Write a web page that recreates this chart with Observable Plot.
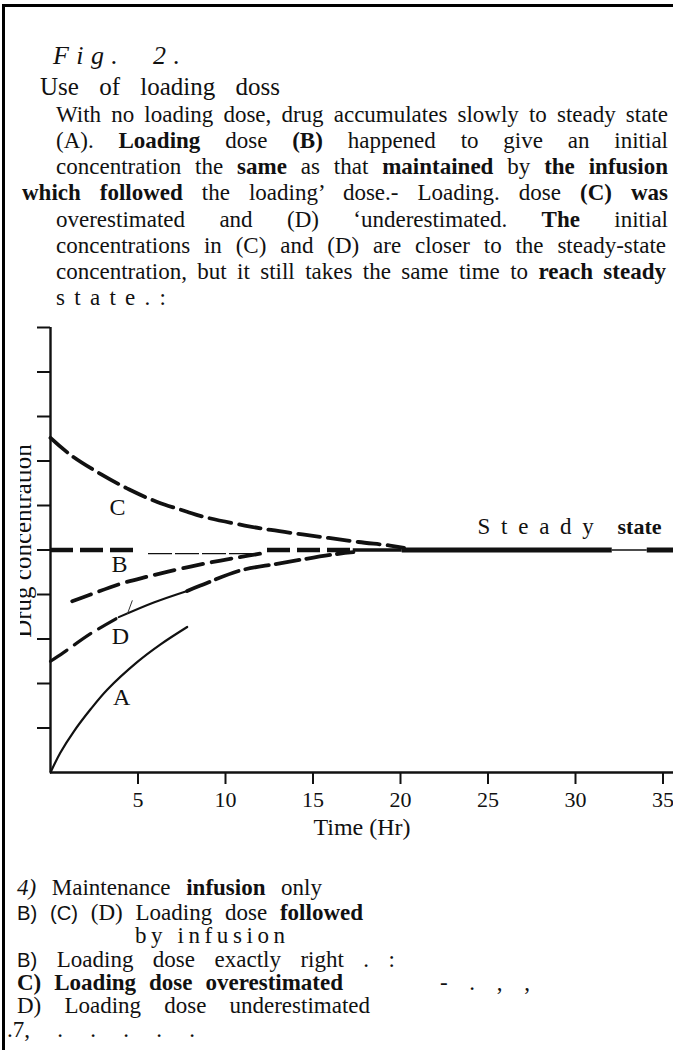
<!DOCTYPE html>
<html><head><meta charset="utf-8">
<script src="https://cdn.jsdelivr.net/npm/d3@7"></script>
<script src="https://cdn.jsdelivr.net/npm/@observablehq/plot@0.6"></script>
<style>
html,body{margin:0;padding:0;background:#fff;}
#page{position:relative;width:673px;height:1050px;overflow:hidden;background:#fff;font-family:"Liberation Serif","Times New Roman",serif;color:#111;}
#page .ln{position:absolute;white-space:nowrap;line-height:1;}
.b{font-weight:bold;}
.s{font-family:"Liberation Sans",Arial,sans-serif;font-size:0.88em;}
.i{font-style:italic;}
#borderTop{position:absolute;left:2px;top:4px;width:671px;height:3px;background:#000;}
#borderLeft{position:absolute;left:2px;top:4px;width:2.5px;height:1046px;background:#000;}
#chart{position:absolute;left:0;top:310px;}
#ylab{position:absolute;left:20px;top:420px;}
</style></head><body><div id="page">
<div id="borderTop"></div><div id="borderLeft"></div>
<div class="ln ls i" data-x="53" data-r="180" data-b="65" data-fs="26">Fig.&nbsp; 2.</div>
<div class="ln ws" data-x="40" data-r="280" data-b="95" data-fs="25">Use of loading doss</div>
<div class="ln ws" data-x="56" data-r="668" data-b="122" data-fs="23">With no loading dose, drug accumulates slowly to steady state</div>
<div class="ln ws" data-x="56" data-r="668" data-b="148" data-fs="23">(A). <span class="b">Loading</span> dose <span class="b">(B)</span> happened to give an initial</div>
<div class="ln ws" data-x="56" data-r="668" data-b="174" data-fs="23">concentration the <span class="b">same</span> as that <span class="b">maintained</span> by <span class="b">the infusion</span></div>
<div class="ln ws" data-x="22" data-r="668" data-b="200" data-fs="23"><span class="b">which followed</span> the loading’ dose.- Loading. dose <span class="b">(C) was</span></div>
<div class="ln ws" data-x="56" data-r="668" data-b="227" data-fs="23">overestimated and (D) ‘underestimated. <span class="b">The</span> initial</div>
<div class="ln ws" data-x="56" data-r="666" data-b="253" data-fs="23">concentrations in (C) and (D) are closer to the steady-state</div>
<div class="ln ws" data-x="56" data-r="666" data-b="279" data-fs="23">concentration, but it still takes the same time to <span class="b">reach steady</span></div>
<div class="ln ls" data-x="56" data-r="166" data-b="305" data-fs="23">state.:</div>

<div id="chart"></div>
<svg id="ylab" width="18" height="250"><text transform="translate(11,121) rotate(-90)" text-anchor="middle" font-family="Liberation Serif" font-size="25" fill="#111">Drug concentration</text></svg>

<div class="ln ws" data-x="17" data-r="322" data-b="895" data-fs="23"><span class="i">4)</span> Maintenance <span class="b">infusion</span> only</div>
<div class="ln ws" data-x="17" data-r="363" data-b="920" data-fs="23"><span class="s">B) (C)</span> (D) Loading dose <span class="b">followed</span></div>
<div class="ln ls" data-x="135" data-r="285" data-b="943" data-fs="23">by infusion</div>
<div class="ln ws" data-x="17" data-r="395" data-b="967" data-fs="23"><span class="s">B)</span> Loading dose exactly right . :</div>
<div class="ln ws b" data-x="17" data-r="343" data-b="990" data-fs="23">C) Loading dose overestimated</div>
<div class="ln ws" data-x="440" data-r="530" data-b="990" data-fs="23">- . , ,</div>
<div class="ln ws" data-x="17" data-r="370" data-b="1013" data-fs="23">D) Loading dose underestimated</div>
<div class="ln ws" data-x="7" data-r="195" data-b="1037" data-fs="23">.7, . . . . .</div>
</div>
<script>
// ---- chart data ----
const xTicks = [5, 10, 15, 20, 25, 30, 35];
const yTicks = [1, 2, 3, 4, 5, 6, 7, 8, 9, 10];
const steadyLevel = 5;

// (A) maintenance infusion only
const tA = [0, 0.57, 1.33, 2.29, 3.24, 4.95, 6.29, 7.81];
const vA = [0, 0.45, 0.92, 1.42, 1.86, 2.48, 2.88, 3.27];
// (C) overestimated loading dose
const tC = [0, 1.2, 2.9, 4.5, 6.1, 7.8, 8.6, 11.1, 12.6, 14.4, 15.9, 17.6, 19.4, 20.2];
const vC = [7.52, 7.12, 6.7, 6.36, 6.08, 5.86, 5.76, 5.55, 5.45, 5.35, 5.27, 5.18, 5.1, 5.05];
// (D) underestimated loading dose: dashed, solid, dashed pieces
const tD1 = [0, 0.76, 2.29, 3.9];
const vD1 = [2.5, 2.7, 3.12, 3.49];
const tD2 = [3.9, 5.9, 7.81];
const vD2 = [3.49, 3.82, 4.08];
const tD3 = [7.81, 8.57, 10.86, 12.95, 16.17, 17.31];
const vD3 = [4.08, 4.2, 4.54, 4.69, 4.9, 4.95];
// second rising dashed curve
const tE = [1.24, 2.29, 4.0, 5.53, 7.33, 9.14, 10.67, 12.19];
const vE = [3.85, 4.0, 4.24, 4.4, 4.57, 4.72, 4.83, 4.93];
// (B) loading dose exactly right
const bDashStart = [0, 12.4];
const bDashEnd = [4.9, 17.3];
const bThinStart = [5.6];
const bThinEnd = [11.6];
const bThinLevel = 4.92;
// steady-state line pieces
const steadyStart = [17.3, 20.1, 32.1, 34.1];
const steadyEnd = [20.1, 32.1, 34.1, 35.6];
const steadyWeight = [3.5, 5, 1.6, 5];
// stray stroke on D
const slashT = [4.4, 4.67];
const slashV = [3.57, 3.86];
// curve labels
const labelText = ["C", "B", "D", "A"];
const labelT = [3.83, 3.94, 4.0, 4.06];
const labelV = [5.95, 4.67, 3.07, 1.7];
const steadyWord1 = {s: "S t e a d y", t: 24.4, v: 5.52};
const steadyWord2 = {s: "state", t: 32.4, v: 5.52};

// ---- build tables ----
const rows = (ts, vs) => ts.map((t, i) => ({t, v: vs[i]}));
const segs = (a, b, extra) => a.map((t1, i) => ({t1, t2: b[i], ...(extra ? extra(i) : {})}));

const chart = Plot.plot({
  width: 673,
  height: 540,
  marginLeft: 50,
  marginRight: 0,
  marginTop: 17,
  marginBottom: 78,
  x: {domain: [0, 35.6]},
  y: {domain: [0, 10]},
  style: {fontFamily: "Liberation Serif", color: "#111", background: "transparent", overflow: "visible"},
  marks: [
    Plot.axisY({ticks: yTicks, tickSize: 13, tickFormat: () => "", strokeWidth: 2, label: null}),
    Plot.axisX({ticks: xTicks, tickSize: 12, tickPadding: 7, fontSize: 22, strokeWidth: 2, label: null}),
    Plot.ruleX([0], {strokeWidth: 2.4, stroke: "#111"}),
    Plot.ruleY([0], {strokeWidth: 2.7, stroke: "#111"}),
    Plot.line(rows(tA, vA), {x: "t", y: "v", curve: "catmull-rom", strokeWidth: 2.2, stroke: "#111"}),
    Plot.line(rows(tC, vC), {x: "t", y: "v", curve: "catmull-rom", strokeWidth: 3.8, strokeDasharray: "22,8", stroke: "#111"}),
    Plot.line(rows(tD1, vD1), {x: "t", y: "v", curve: "catmull-rom", strokeWidth: 3.2, strokeDasharray: "20,9", stroke: "#111"}),
    Plot.line(rows(tD2, vD2), {x: "t", y: "v", curve: "catmull-rom", strokeWidth: 2, stroke: "#111"}),
    Plot.line(rows(tD3, vD3), {x: "t", y: "v", curve: "catmull-rom", strokeWidth: 3.8, strokeDasharray: "24,7", stroke: "#111"}),
    Plot.line(rows(tE, vE), {x: "t", y: "v", curve: "catmull-rom", strokeWidth: 3.8, strokeDasharray: "20,9", stroke: "#111"}),
    Plot.ruleY(segs(bDashStart, bDashEnd), {y: steadyLevel, x1: "t1", x2: "t2", strokeWidth: 4.5, strokeDasharray: "23,7", stroke: "#111"}),
    Plot.ruleY(segs(bThinStart, bThinEnd), {y: bThinLevel, x1: "t1", x2: "t2", strokeWidth: 1.2, strokeDasharray: "24,3", stroke: "#111"}),
    Plot.ruleY(segs(steadyStart, steadyEnd, i => ({w: steadyWeight[i]})), {y: steadyLevel, x1: "t1", x2: "t2", strokeWidth: "w", stroke: "#111"}),
    Plot.line(rows(slashT, slashV), {x: "t", y: "v", strokeWidth: 1, stroke: "#333"}),
    Plot.text(labelText.map((s, i) => ({s, t: labelT[i], v: labelV[i]})), {x: "t", y: "v", text: "s", fontSize: 24, fill: "#111"}),
    Plot.text([steadyWord1], {x: "t", y: "v", text: "s", textAnchor: "start", fontSize: 23, fill: "#111"}),
    Plot.text([steadyWord2], {x: "t", y: "v", text: "s", textAnchor: "start", fontSize: 22, fontWeight: "bold", fill: "#111"}),
    Plot.text(["Time (Hr)"], {frameAnchor: "bottom", dy: 62, fontSize: 24, fill: "#111"})
  ]
});
chart.querySelectorAll("text").forEach(t => { if (t.textContent === "S t e a d y") t.setAttribute("letter-spacing", "2.5"); });
document.getElementById("chart").appendChild(chart);

// ---- place and justify text lines ----
document.querySelectorAll("#page .ln").forEach(el => {
  const fs = +el.dataset.fs;
  el.style.fontSize = fs + "px";
  el.style.left = el.dataset.x + "px";
  el.style.top = (+el.dataset.b - 0.8375 * fs) + "px";
  if (el.dataset.r) {
    const target = +el.dataset.r - +el.dataset.x;
    const w = el.getBoundingClientRect().width;
    if (el.classList.contains("ls")) {
      const n = el.textContent.length;
      el.style.letterSpacing = ((target - w) / (n - 1)) + "px";
    } else {
      const n = (el.textContent.match(/ /g) || []).length;
      if (n) el.style.wordSpacing = ((target - w) / n) + "px";
    }
  }
});
</script>
</body></html>
